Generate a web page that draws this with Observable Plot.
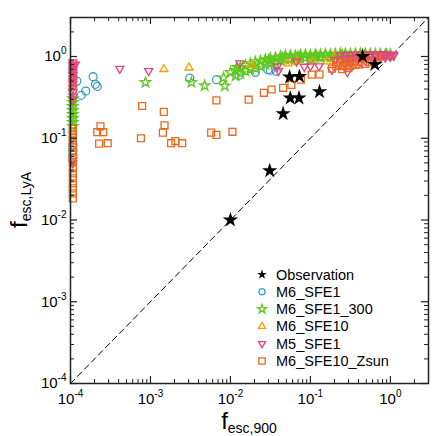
<!DOCTYPE html>
<html><head><meta charset="utf-8">
<script src="https://cdn.jsdelivr.net/npm/d3@7"></script>
<script src="https://cdn.jsdelivr.net/npm/@observablehq/plot@0.6"></script>
<style>body{margin:0;background:#fff}</style>
</head><body><div id="chart"></div>
<script>
// ---------- data ----------
const majorTicks = [1e-4, 1e-3, 1e-2, 1e-1, 1];
const minorMultipliers = [2, 3, 4, 5, 6, 7, 8, 9];
const oneToOne = [1e-4, 3];
const seriesNames = ["Observation", "M6_SFE1", "M6_SFE1_300", "M6_SFE10", "M5_SFE1", "M6_SFE10_Zsun"];
const seriesColors = ["#000000", "#3d9dc0", "#5ec91e", "#ff9a00", "#e6447f", "#e8691b"];

const observation = [[0.01,0.01],[0.031,0.040],[0.0456,0.20],[0.056,0.31],[0.072,0.31],[0.055,0.56],[0.073,0.57],[0.13,0.37],[0.45,1.0],[0.64,0.80]];

const m6sfe1 = [
 [1.07e-4,0.64],[1.07e-4,0.39],[1.07e-4,0.082],[1.07e-4,0.071],[1.07e-4,0.062],
 [1.2e-4,0.50],[1.36e-4,0.335],[1.55e-4,0.378],[1.92e-4,0.565],[2.05e-4,0.457],[2.16e-4,0.43],
 [3.1e-3,0.545],[6.7e-3,0.52],[0.0128,0.59],[0.0205,0.64],[0.0294,0.69],[0.0316,0.68],[0.0375,0.66],
 [0.065,0.90],[0.10,0.95],[0.18,1.0],[0.30,1.02]
];

const m6sfe1_300 = [
 [1.07e-4,0.308],[1.07e-4,0.275],[1.07e-4,0.246],[1.07e-4,0.219],[1.07e-4,0.196],[1.07e-4,0.175],[1.07e-4,0.157],[1.07e-4,0.14],
 [8.66e-4,0.483],[3.25e-3,0.483],[4.76e-3,0.44],[8.5e-3,0.437],[8.2e-3,0.55],[0.01,0.64],[0.0121,0.74],
 [0.0116,0.58],[0.0116,0.68],[0.0133,0.62],[0.0133,0.74],[0.0154,0.66],[0.0154,0.78],[0.0178,0.70],[0.0178,0.82],
 [0.0205,0.72],[0.0205,0.86],[0.0237,0.76],[0.0237,0.88],[0.0274,0.80],[0.0274,0.92],[0.0316,0.83],[0.0316,0.95],
 [0.0365,0.86],[0.0365,0.97],[0.0422,0.90],[0.0422,1.0],[0.0487,0.92],[0.0487,1.02],[0.0562,0.93],[0.0562,1.03],
 [0.065,0.94],[0.065,1.02],[0.075,0.95],[0.075,1.04],[0.0866,0.96],[0.0866,1.05],[0.10,0.96],[0.10,1.04],
 [0.1155,0.97],[0.1155,1.06],[0.1334,0.98],[0.1334,1.06],[0.154,0.99],[0.154,1.07],[0.178,0.98],[0.178,1.06],
 [0.205,1.0],[0.205,1.07],[0.237,1.0],[0.237,1.08],[0.274,1.01],[0.274,1.08],[0.316,1.0],[0.316,1.07],
 [0.365,1.02],[0.365,1.08],[0.422,1.02],[0.422,1.08],[0.487,1.03],[0.487,1.08],[0.562,1.03],[0.562,1.07],
 [0.65,1.03],[0.65,1.07],[0.75,1.04],[0.75,1.07],[0.866,1.04],[0.866,1.06],[1.0,1.04],[1.0,1.06],
 [0.03,0.90],[0.045,0.96],[0.07,1.0],[0.12,1.01],[0.25,1.04],[0.45,1.05],[0.90,1.05]
];

const m6sfe10 = [
 [1.07e-4,0.678],[1.07e-4,0.605],[1.07e-4,0.54],[1.07e-4,0.483],[1.07e-4,0.432],
 [1.47e-3,0.70],[3.03e-3,0.73],[0.0183,0.79],[0.0527,0.82],[0.068,0.87],[0.106,0.86],[0.162,0.87],
 [0.205,1.03],[0.30,0.90],[0.45,0.95],[0.70,1.0]
];

const m5sfe1 = [
 [1.07e-4,0.85],[1.07e-4,0.80],[1.07e-4,0.76],[1.07e-4,0.717],[1.07e-4,0.678],[1.07e-4,0.64],[1.07e-4,0.589],
 [1.07e-4,0.54],[1.07e-4,0.497],[1.07e-4,0.457],[1.07e-4,0.408],[1.07e-4,0.365],[1.07e-4,0.326],[1.07e-4,0.291],
 [1.07e-4,0.0536],[1.07e-4,0.0493],
 [1.15e-4,0.80],[4.13e-4,0.71],[9.5e-4,0.665],[0.0131,0.83],[0.0387,0.76],[0.040,0.67],[0.067,0.87],
 [0.084,0.75],[0.10,0.76],[0.128,0.76],[0.186,0.69],[0.20,0.91],[0.274,0.93],[0.29,0.645],
 [0.237,0.80],[0.237,0.92],[0.237,1.04],[0.274,0.82],[0.274,0.95],[0.274,1.05],
 [0.316,0.83],[0.316,0.95],[0.316,1.05],[0.365,0.85],[0.365,0.96],[0.365,1.06],
 [0.42,0.87],[0.42,0.97],[0.42,1.06],[0.487,0.89],[0.487,0.98],[0.487,1.07],
 [0.562,0.91],[0.562,1.0],[0.562,1.07],[0.65,0.93],[0.65,1.01],[0.65,1.07],
 [0.75,0.95],[0.75,1.02],[0.75,1.07],[0.866,0.97],[0.866,1.04],[0.866,1.07],
 [1.0,0.99],[1.0,1.05],[1.1,1.02],[1.1,1.06]
];

const m6sfe10zsun = [
 [1.07e-4,0.132],[1.07e-4,0.1215],[1.07e-4,0.1116],[1.07e-4,0.1026],[1.07e-4,0.0943],[1.07e-4,0.0866],
 [1.07e-4,0.0774],[1.07e-4,0.0672],[1.07e-4,0.0584],[1.07e-4,0.0507],[1.07e-4,0.0428],[1.07e-4,0.0372],
 [1.07e-4,0.0323],[1.07e-4,0.0281],[1.07e-4,0.0244],[1.07e-4,0.0212],[1.07e-4,0.0184],
 [7.87e-4,0.248],[1.47e-3,0.21],[1.5e-3,0.144],[1.43e-3,0.117],[2.37e-4,0.14],[2.16e-4,0.119],[2.56e-4,0.119],
 [2.28e-4,0.086],[2.92e-4,0.087],[7.6e-4,0.10],[1.81e-3,0.087],[2.05e-3,0.0925],[2.49e-3,0.087],
 [6.68e-3,0.291],[5.74e-3,0.117],[6.68e-3,0.11],[0.0106,0.12],[0.0169,0.296],[0.0262,0.36],[0.0327,0.395],
 [0.0456,0.414],[0.0579,0.45],[0.076,0.52],[0.104,0.60],[0.13,0.605],
 [0.186,0.71],[0.21,0.76],[0.237,0.77],[0.274,0.77],[0.316,0.77],[0.365,0.79],[0.41,0.80],[0.48,0.81],
 [0.25,0.70],[0.30,0.72],[0.22,0.85],[0.28,0.86],[0.35,0.86],[0.56,0.85],[0.68,0.90]
];

// ---------- layout ----------
const W = 436, H = 436, mL = 70, mR = 8, mT = 17, mB = 53;
const fw = W - mL - mR, fh = H - mT - mB;
const majorLen = 7, minorLen = 4;
const minorTicks = majorTicks.flatMap(t => minorMultipliers.map(m => m * t)).filter(v => v < 3);
const font = "Liberation Sans, Arial, Helvetica, sans-serif";

const triangleDown = {
  draw(context, size) {
    const y = Math.sqrt(size / (Math.sqrt(3) * 3));
    context.moveTo(0, y * 2);
    context.lineTo(-Math.sqrt(3) * y, -y);
    context.lineTo(Math.sqrt(3) * y, -y);
    context.closePath();
  }
};
const symbols = [d3.symbolStar, d3.symbolCircle, d3.symbolStar, d3.symbolTriangle, triangleDown, d3.symbolSquare];
const radii = [4.8, 4, 3.2, 3, 3, 3.9];
const datasets = [observation, m6sfe1, m6sfe1_300, m6sfe10, m5sfe1, m6sfe10zsun];

const tickMarks = (vals, len, sw) => [
  Plot.tickX(vals, {x: d => d, insetTop: fh - len, stroke: "#222", strokeWidth: sw}),
  Plot.tickX(vals, {x: d => d, insetBottom: fh - len, stroke: "#222", strokeWidth: sw}),
  Plot.tickY(vals, {y: d => d, insetRight: fw - len, stroke: "#222", strokeWidth: sw}),
  Plot.tickY(vals, {y: d => d, insetLeft: fw - len, stroke: "#222", strokeWidth: sw})
];

const simMarks = [1, 2, 3, 4, 5].map(i => Plot.dot(datasets[i], {
  x: d => d[0], y: d => d[1], symbol: symbols[i], r: radii[i],
  stroke: seriesColors[i], fill: "none", strokeWidth: 1.3
}));

const chart = Plot.plot({
  width: W, height: H,
  marginLeft: mL, marginRight: mR, marginTop: mT, marginBottom: mB,
  style: {fontFamily: font, fontSize: "15px", background: "#fff"},
  x: {type: "log", domain: [1e-4, 3]},
  y: {type: "log", domain: [1e-4, 3]},
  marks: [
    Plot.line(oneToOne, {x: d => d, y: d => d, stroke: "#000", strokeWidth: 1, strokeDasharray: "6,4"}),
    ...simMarks,
    Plot.dot(observation, {x: d => d[0], y: d => d[1], symbol: "star", r: radii[0], fill: "#000", stroke: "none"}),
    Plot.frame({stroke: "#222", strokeWidth: 1.5}),
    ...tickMarks(majorTicks, majorLen, 1.2),
    ...tickMarks(minorTicks, minorLen, 1),
    Plot.axisX({ticks: majorTicks, tickSize: 0, tickPadding: 10, fontSize: 15, label: null,
      tickFormat: d => "10^" + Math.round(Math.log10(d))}),
    Plot.axisY({ticks: majorTicks, tickSize: 0, tickPadding: 4, fontSize: 15, label: null,
      tickFormat: d => "10^" + Math.round(Math.log10(d))})
  ]
});
document.getElementById("chart").appendChild(chart);

const svg = d3.select(chart);
// superscript tick labels
svg.selectAll('g[aria-label="x-axis tick label"] text, g[aria-label="y-axis tick label"] text').each(function () {
  const t = d3.select(this);
  const m = t.text().match(/^10\^(-?\d+)$/);
  if (!m) return;
  t.text("10");
  t.append("tspan").attr("dy", -7).attr("font-size", 10).text(m[1]);
});

// axis titles
const xt = svg.append("text").attr("x", mL + fw / 2).attr("y", 429).attr("text-anchor", "middle")
  .attr("font-family", font).attr("fill", "#000");
xt.append("tspan").attr("font-size", 24).text("f");
xt.append("tspan").attr("font-size", 14).attr("dy", 4).text("esc,900");
const yt = svg.append("text").attr("transform", `translate(27,${mT + fh / 2}) rotate(-90)`).attr("text-anchor", "middle")
  .attr("font-family", font).attr("fill", "#000");
yt.append("tspan").attr("font-size", 24).text("f");
yt.append("tspan").attr("font-size", 14).attr("dy", 4).text("esc,LyA");

// legend
const legX = 262, legY0 = 274.5, legDy = 17.3;
const legSizes = [30, 30, 24, 22, 22, 40];
seriesNames.forEach((name, i) => {
  const g = svg.append("g").attr("transform", `translate(${legX},${legY0 + i * legDy})`);
  g.append("path").attr("d", d3.symbol(symbols[i], legSizes[i])())
    .attr("fill", i === 0 ? "#000" : "none").attr("stroke", i === 0 ? "none" : seriesColors[i]).attr("stroke-width", 1.3);
  g.append("text").attr("x", 14).attr("y", 5).attr("text-anchor", "start").attr("font-family", font)
    .attr("font-size", 14.5).attr("fill", "#000").text(name);
});
</script>
</body></html>
